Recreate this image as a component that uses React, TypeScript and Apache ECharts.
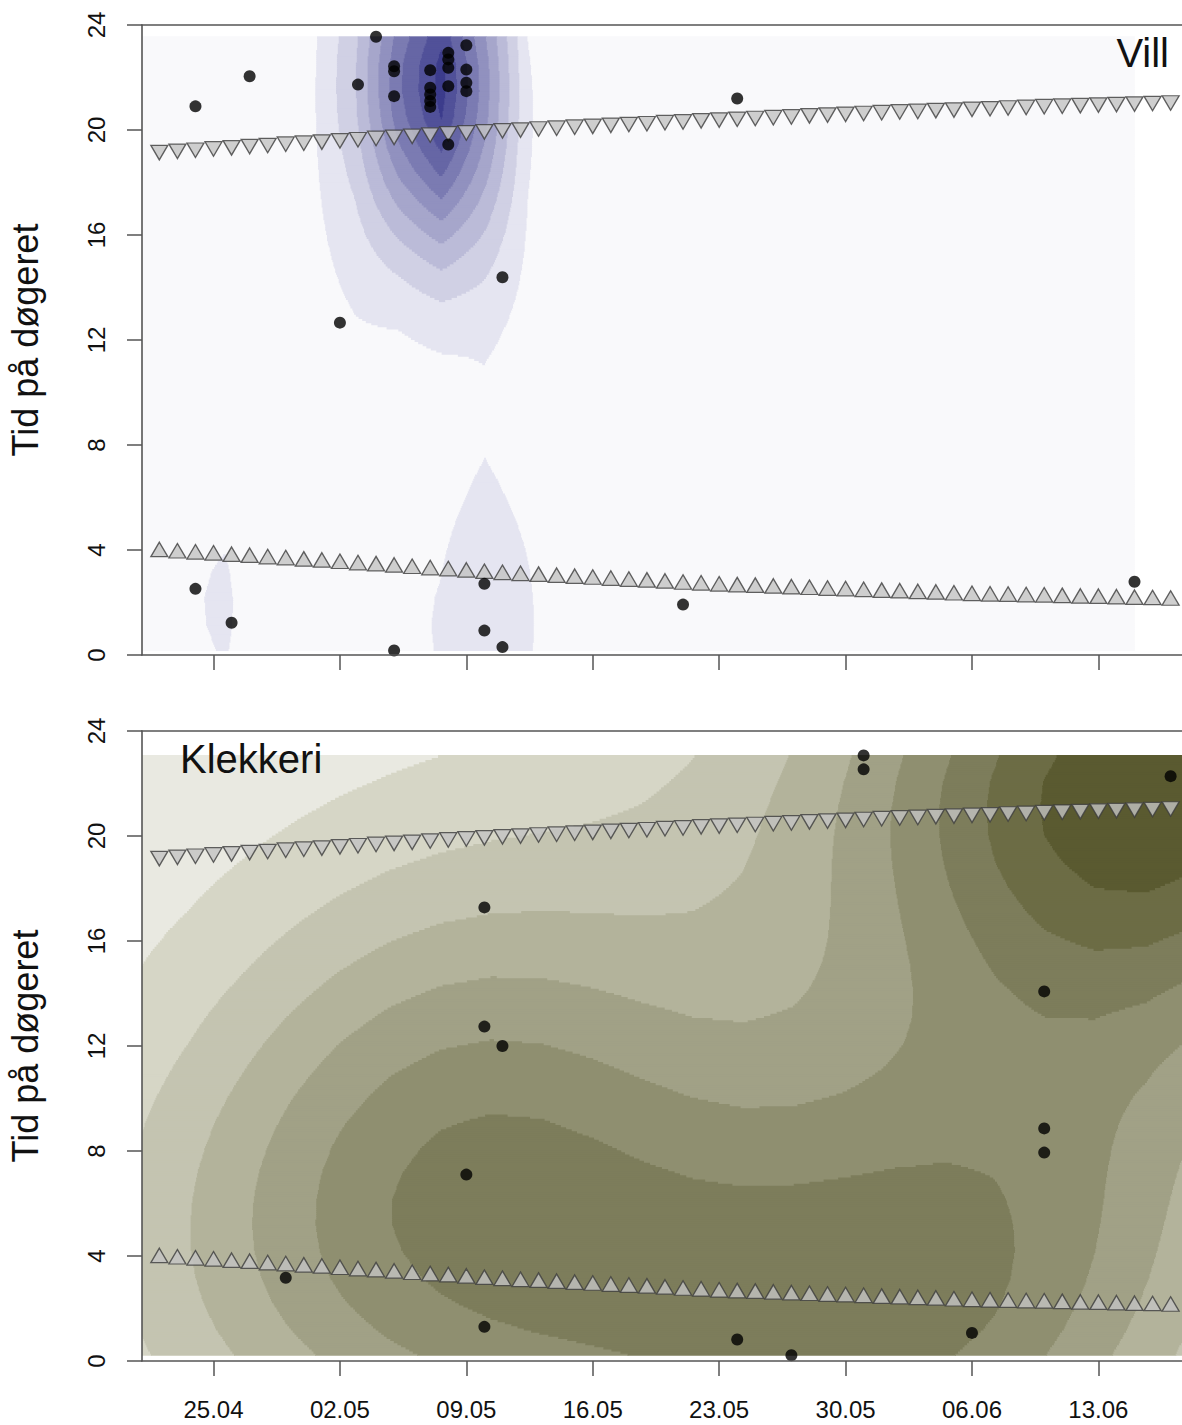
import React, { useEffect, useRef } from "react";
import * as echarts from "echarts";

// ---------- axes ----------
const TICK_DAYS = [0, 7, 14, 21, 28, 35, 42, 49]; // days after 25.04
const TICK_LABELS = ["25.04", "02.05", "09.05", "16.05", "23.05", "30.05", "06.06", "13.06"];
const X_MIN = -3.96;
const X_MAX = 53.63;

// ---------- sunrise / sunset (one marker per day) ----------
const SUN_DAYS = [-4, -3, -2, -1, 0, 1, 2, 3, 4, 5, 6, 7, 8, 9, 10, 11, 12, 13, 14, 15, 16, 17, 18, 19, 20, 21, 22, 23, 24, 25, 26, 27, 28, 29, 30, 31, 32, 33, 34, 35, 36, 37, 38, 39, 40, 41, 42, 43, 44, 45, 46, 47, 48, 49, 50, 51, 52, 53];
const SUNSET_H = [
  19.19, 19.23, 19.28, 19.32, 19.37, 19.41, 19.46, 19.5, 19.55, 19.59,
  19.63, 19.68, 19.72, 19.77, 19.81, 19.85, 19.9, 19.94, 19.98, 20.02,
  20.06, 20.09, 20.13, 20.16, 20.2, 20.23, 20.27, 20.3, 20.33, 20.37,
  20.4, 20.44, 20.47, 20.5, 20.53, 20.56, 20.59, 20.63, 20.66, 20.69,
  20.72, 20.75, 20.78, 20.8, 20.83, 20.85, 20.88, 20.9, 20.93, 20.95,
  20.98, 21.0, 21.02, 21.04, 21.06, 21.08, 21.1, 21.12,
];
const SUNRISE_H = [
  3.97, 3.93, 3.88, 3.84, 3.8, 3.75, 3.71, 3.66, 3.62, 3.57,
  3.53, 3.48, 3.43, 3.39, 3.34, 3.29, 3.24, 3.2, 3.15, 3.1,
  3.06, 3.02, 2.99, 2.95, 2.91, 2.88, 2.84, 2.8, 2.77, 2.73,
  2.69, 2.66, 2.62, 2.59, 2.57, 2.54, 2.51, 2.49, 2.46, 2.44,
  2.41, 2.38, 2.36, 2.33, 2.31, 2.28, 2.26, 2.24, 2.23, 2.21,
  2.2, 2.18, 2.16, 2.15, 2.13, 2.11, 2.1, 2.08,
];

// ---------- observations: [day after 25.04, hour] ----------
const VILL_POINTS = [
  [-1, 20.9], [2, 22.05], [9, 23.55], [8, 21.73],
  [10, 22.43], [10, 22.24], [10, 21.29],
  [12, 22.28], [12, 21.61], [12, 21.35], [12, 21.1], [12, 20.88],
  [13, 22.94], [13, 22.69], [13, 22.37], [13, 21.67], [13, 19.45],
  [14, 23.23], [14, 22.3], [14, 21.8], [14, 21.48],
  [16, 14.39], [7, 12.66], [29, 21.2],
  [-1, 2.52], [1, 1.23], [10, 0.17], [15, 2.71], [15, 0.93], [16, 0.3], [26, 1.92], [51, 2.79],
];
const VILL_WEIGHTS = VILL_POINTS.map(() => 1);

const KLEKKERI_POINTS = [
  [4, 3.17], [15, 17.28], [15, 12.74], [16, 12.0], [14, 7.1], [15, 1.3],
  [29, 0.82], [32, 0.22], [42, 1.07], [36, 23.07], [36, 22.54],
  [46, 14.08], [46, 8.86], [46, 7.94], [53, 22.28],
];
const KLEKKERI_WEIGHTS = [1.4, 0.3, 0.9, 0.9, 2.0, 1.5, 1.4, 1.4, 2.6, 0.6, 0.6, 0.8, 1, 1, 7.1];

// ---------- density settings (kernel sd in days / hours, grid nodes, contour step) ----------
const VILL_KDE = { hx: 2.0, hy: 4.5, step: 1.5, xFrom: -4.15, xTo: 51.0, n: 24 };
const KLEKKERI_KDE = { hx: 11, hy: 6.5, step: 0.9, xFrom: -4.15, xTo: 60, n: 24 };

const VILL_COLORS = { low: "#f9f9fb", first: "#e5e5f1", high: "#3c3c8c" };
const KLEKKERI_COLORS = { low: "#e9e9e1", first: "#d6d6c6", high: "#5a5a30" };

const FONT = "'Liberation Sans', Arial, Helvetica, sans-serif";

function hexToRgb(h: string) {
  const v = parseInt(h.slice(1), 16);
  return [(v >> 16) & 255, (v >> 8) & 255, v & 255];
}
function mix(a: string, b: string, t: number) {
  const A = hexToRgb(a), B = hexToRgb(b);
  const c = A.map((x, i) => Math.round(x + (B[i] - x) * t));
  return `rgb(${c[0]},${c[1]},${c[2]})`;
}
function palette(bandMax: number, cols: { low: string; first: string; high: string }) {
  const out = [cols.low];
  for (let k = 1; k <= bandMax; k++) {
    out.push(bandMax <= 1 ? cols.first : mix(cols.first, cols.high, (k - 1) / (bandMax - 1)));
  }
  return out;
}

// kernel density on a coarse node grid, then linear interpolation between nodes
function densityCells(points: number[][], weights: number[], cfg: any) {
  const hours = points.map((p) => p[1]);
  const yFrom = Math.min(...hours);
  const yTo = Math.max(...hours);
  const n = cfg.n;
  const gx = (cfg.xTo - cfg.xFrom) / (n - 1);
  const gy = (yTo - yFrom) / (n - 1);
  const node: number[][] = [];
  for (let j = 0; j < n; j++) {
    const row: number[] = [];
    const y = yFrom + j * gy;
    for (let i = 0; i < n; i++) {
      const x = cfg.xFrom + i * gx;
      let s = 0;
      for (let k = 0; k < points.length; k++) {
        const u = (x - points[k][0]) / cfg.hx;
        const v = (y - points[k][1]) / cfg.hy;
        s += weights[k] * Math.exp(-0.5 * (u * u + v * v));
      }
      row.push(s);
    }
    node.push(row);
  }
  let zmin = Infinity, zmax = -Infinity;
  node.forEach((r) => r.forEach((v) => { zmin = Math.min(zmin, v); zmax = Math.max(zmax, v); }));
  const base = Math.floor(zmin / cfg.step);
  const bandMax = Math.floor(zmax / cfg.step) - base;

  const nx = Math.round((cfg.xTo - cfg.xFrom) / 0.05);
  const ny = Math.round((yTo - yFrom) / 0.08);
  const cx = (cfg.xTo - cfg.xFrom) / nx;
  const cy = (yTo - yFrom) / ny;
  const items: number[][] = [];
  for (let j = 0; j < ny; j++) {
    const y = yFrom + (j + 0.5) * cy;
    const fj = Math.min(n - 1.000001, (y - yFrom) / gy);
    const j0 = Math.floor(fj), tj = fj - j0;
    const bandAt = (i: number) => {
      const x = cfg.xFrom + (i + 0.5) * cx;
      const fi = Math.min(n - 1.000001, (x - cfg.xFrom) / gx);
      const i0 = Math.floor(fi), ti = fi - i0;
      const z =
        node[j0][i0] * (1 - ti) * (1 - tj) +
        node[j0][i0 + 1] * ti * (1 - tj) +
        node[j0 + 1][i0] * (1 - ti) * tj +
        node[j0 + 1][i0 + 1] * ti * tj;
      return Math.floor(z / cfg.step) - base;
    };
    const y0 = yFrom + j * cy, y1 = y0 + cy;
    let start = 0;
    let band = bandAt(0);
    for (let i = 1; i <= nx; i++) {
      const b = i < nx ? bandAt(i) : -1;
      if (b !== band) {
        items.push([cfg.xFrom + start * cx, cfg.xFrom + i * cx, y0, y1, band]);
        start = i;
        band = b;
      }
    }
  }
  return { items, bandMax };
}

function densitySeries(points: number[][], weights: number[], cfg: any, cols: any, xi: number, yi: number) {
  const { items, bandMax } = densityCells(points, weights, cfg);
  const pal = palette(bandMax, cols);
  return {
    type: "custom",
    xAxisIndex: xi,
    yAxisIndex: yi,
    clip: true,
    silent: true,
    progressive: 0,
    z: 1,
    encode: { x: [0, 1], y: [2, 3] },
    data: items,
    renderItem: (_params: any, api: any) => {
      const p0 = api.coord([api.value(0), api.value(3)]);
      const p1 = api.coord([api.value(1), api.value(2)]);
      const b = Math.max(0, Math.min(pal.length - 1, api.value(4)));
      return {
        type: "rect",
        shape: { x: p0[0] - 0.3, y: p0[1] - 0.5, width: p1[0] - p0[0] + 0.6, height: p1[1] - p0[1] + 1 },
        style: { fill: pal[b] },
      };
    },
  };
}

function xAxes(gridIndex: number, showLabels: boolean) {
  const line = { show: true, onZero: false, lineStyle: { color: "#555", width: 1.6 } };
  return [
    {
      type: "value",
      gridIndex,
      position: "bottom",
      min: X_MIN,
      max: X_MAX,
      z: 10,
      axisLine: line,
      splitLine: { show: false },
      axisTick: { show: true, customValues: TICK_DAYS, length: 15, lineStyle: { color: "#555", width: 1.5 } },
      axisLabel: {
        show: showLabels,
        customValues: TICK_DAYS,
        formatter: (v: number) => TICK_LABELS[TICK_DAYS.indexOf(Math.round(v))] || "",
        fontSize: 24,
        color: "#111",
        fontFamily: FONT,
        margin: 36,
      },
    },
    {
      type: "value",
      gridIndex,
      position: "top",
      min: X_MIN,
      max: X_MAX,
      z: 10,
      axisLine: line,
      splitLine: { show: false },
      axisTick: { show: false },
      axisLabel: { show: false },
    },
  ];
}

function yAxis(gridIndex: number) {
  return {
    type: "value",
    gridIndex,
    position: "left",
    min: 0,
    max: 24,
    interval: 4,
    z: 10,
    axisLine: { show: true, onZero: false, lineStyle: { color: "#555", width: 1.6 } },
    splitLine: { show: false },
    axisTick: { show: true, length: 15, lineStyle: { color: "#555", width: 1.5 } },
    axisLabel: { rotate: 90, fontSize: 24, color: "#111", fontFamily: FONT, margin: 34 },
  };
}

function sunSeries(xi: number, yi: number) {
  const style = { color: "#c3c3c3", borderColor: "#3c3c3c", borderWidth: 1.3 };
  return [
    {
      type: "scatter",
      xAxisIndex: xi,
      yAxisIndex: yi,
      symbol: "triangle",
      symbolSize: [17, 14.5],
      symbolRotate: 180,
      symbolOffset: [0, 2.4],
      itemStyle: style,
      z: 3,
      silent: true,
      data: SUN_DAYS.map((d, i) => [d, SUNSET_H[i]]),
    },
    {
      type: "scatter",
      xAxisIndex: xi,
      yAxisIndex: yi,
      symbol: "triangle",
      symbolSize: [17, 14.5],
      symbolOffset: [0, -2.4],
      itemStyle: style,
      z: 3,
      silent: true,
      data: SUN_DAYS.map((d, i) => [d, SUNRISE_H[i]]),
    },
  ];
}

function pointSeries(points: number[][], xi: number, yi: number) {
  return {
    type: "scatter",
    xAxisIndex: xi,
    yAxisIndex: yi,
    symbol: "circle",
    symbolSize: 12,
    itemStyle: { color: "#000" },
    z: 4,
    silent: true,
    data: points,
  };
}

export default function App() {
  const ref = useRef<HTMLDivElement>(null);
  useEffect(() => {
    if (!ref.current) return;
    const chart = echarts.init(ref.current, null, { renderer: "svg" });
    const option = {
      animation: false,
      backgroundColor: "#ffffff",
      grid: [
        { left: 142, right: -2, top: 25, height: 630 },
        { left: 142, right: -2, top: 731, height: 630 },
      ],
      xAxis: [...xAxes(0, false), ...xAxes(1, true)],
      yAxis: [yAxis(0), yAxis(1)],
      series: [
        densitySeries(VILL_POINTS, VILL_WEIGHTS, VILL_KDE, VILL_COLORS, 0, 0),
        ...sunSeries(0, 0),
        pointSeries(VILL_POINTS, 0, 0),
        densitySeries(KLEKKERI_POINTS, KLEKKERI_WEIGHTS, KLEKKERI_KDE, KLEKKERI_COLORS, 2, 1),
        ...sunSeries(2, 1),
        pointSeries(KLEKKERI_POINTS, 2, 1),
      ],
      graphic: [
        {
          type: "text",
          x: 1169,
          y: 53,
          z: 20,
          style: { text: "Vill", fill: "#111", font: `40px ${FONT}`, align: "right", verticalAlign: "middle" },
        },
        {
          type: "text",
          x: 180,
          y: 759,
          z: 20,
          style: { text: "Klekkeri", fill: "#111", font: `40px ${FONT}`, align: "left", verticalAlign: "middle" },
        },
        {
          type: "text",
          x: 25,
          y: 340,
          rotation: Math.PI / 2,
          z: 20,
          style: { text: "Tid på døgeret", fill: "#111", font: `36px ${FONT}`, align: "center", verticalAlign: "middle" },
        },
        {
          type: "text",
          x: 25,
          y: 1046,
          rotation: Math.PI / 2,
          z: 20,
          style: { text: "Tid på døgeret", fill: "#111", font: `36px ${FONT}`, align: "center", verticalAlign: "middle" },
        },
      ],
    };
    chart.setOption(option as any);
    return () => chart.dispose();
  }, []);
  return <div ref={ref} style={{ position: "absolute", left: 0, top: 0, width: 1182, height: 1425 }} />;
}
